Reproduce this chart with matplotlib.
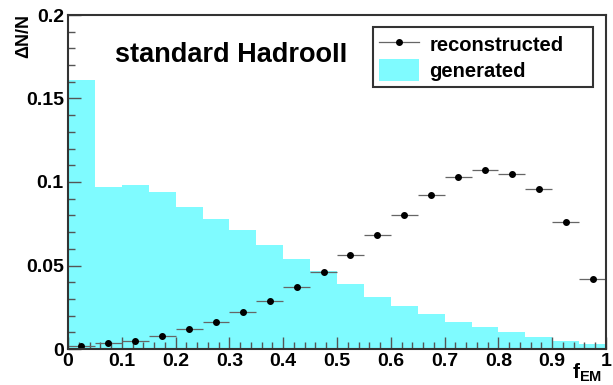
import numpy as np
import matplotlib.pyplot as plt
from matplotlib.ticker import MultipleLocator
from matplotlib.patches import Patch
from matplotlib.lines import Line2D

plt.rcParams['font.family'] = ['Liberation Sans', 'DejaVu Sans']
plt.rcParams['font.weight'] = 'bold'
plt.rcParams['mathtext.fontset'] = 'custom'
plt.rcParams['mathtext.bf'] = 'Liberation Sans:bold'
plt.rcParams['mathtext.rm'] = 'Liberation Sans:bold'

# f_EM binning, 20 bins of 0.05
bin_edges = np.linspace(0.0, 1.0, 21)
bin_centers = 0.5 * (bin_edges[:-1] + bin_edges[1:])

generated = [0.161, 0.097, 0.098, 0.094, 0.085, 0.078, 0.071, 0.062, 0.054, 0.047,
             0.039, 0.031, 0.026, 0.021, 0.016, 0.013, 0.010, 0.007, 0.0045, 0.003]
reconstructed = [0.0018, 0.0034, 0.005, 0.008, 0.012, 0.016, 0.022, 0.029, 0.037, 0.046,
                 0.056, 0.068, 0.080, 0.092, 0.103, 0.107, 0.105, 0.096, 0.076, 0.042]

cyan = '#7ffbff'
frame = '#333333'

fig = plt.figure(figsize=(6.13, 3.85), dpi=100)
ax = fig.add_axes([68 / 613, 36 / 385, 538 / 613, 334 / 385])

ax.stairs(generated, bin_edges, fill=True, color=cyan, linewidth=0)
ax.errorbar(bin_centers, reconstructed, xerr=0.025, fmt='o', color='black',
            markersize=4, ecolor='#666666', elinewidth=0.9, capsize=0)

ax.set_xlim(0, 1)
ax.set_ylim(0, 0.2)

ax.xaxis.set_major_locator(MultipleLocator(0.1))
ax.xaxis.set_minor_locator(MultipleLocator(0.02))
ax.yaxis.set_major_locator(MultipleLocator(0.05))
ax.yaxis.set_minor_locator(MultipleLocator(0.01))
ax.xaxis.set_major_formatter(lambda v, p: f'{v:g}')
ax.yaxis.set_major_formatter(lambda v, p: f'{v:g}')

ax.tick_params(which='both', direction='in', color='#555555', top=False, right=False,
               labelsize=14, pad=3)
ax.tick_params(which='major', length=9, width=1)
ax.tick_params(which='minor', length=5, width=1)
for lbl in ax.get_xticklabels() + ax.get_yticklabels():
    lbl.set_fontweight('bold')
for sp in ax.spines.values():
    sp.set_color(frame)
    sp.set_linewidth(1.5)

fig.text(24 / 613, 1 - 14 / 385, 'ΔN/N', rotation=90, ha='center', va='top',
         fontsize=13, fontweight='bold')
# x-axis title tucked into the bottom-right corner, under the tick labels
fig.text(572 / 613, 1 / 385, r'$\mathbf{f_{EM}}$', ha='left', va='bottom', fontsize=15)

fig.text(115 / 613, 1 - 62 / 385, 'standard HadrooII',
         fontsize=19.5, fontweight='bold', ha='left', va='baseline')

handles = [Line2D([], [], color='#666666', lw=0.9, marker='o', markersize=4,
                  markerfacecolor='black', markeredgecolor='black'),
           Patch(facecolor=cyan, edgecolor='none')]
leg = ax.legend(handles, ['reconstructed', 'generated'], loc='center',
                bbox_to_anchor=(373 / 613, 1 - 91 / 385, 220 / 613, 68 / 385),
                bbox_transform=fig.transFigure, mode='expand', fancybox=False,
                framealpha=1, edgecolor=frame, prop={'size': 14.5, 'weight': 'bold'},
                handlelength=2.0, handleheight=1.3, handletextpad=0.5,
                borderpad=0.3, labelspacing=0.2, borderaxespad=0)
leg.get_frame().set_linewidth(1.5)

fig.savefig('out.png', dpi=100)
